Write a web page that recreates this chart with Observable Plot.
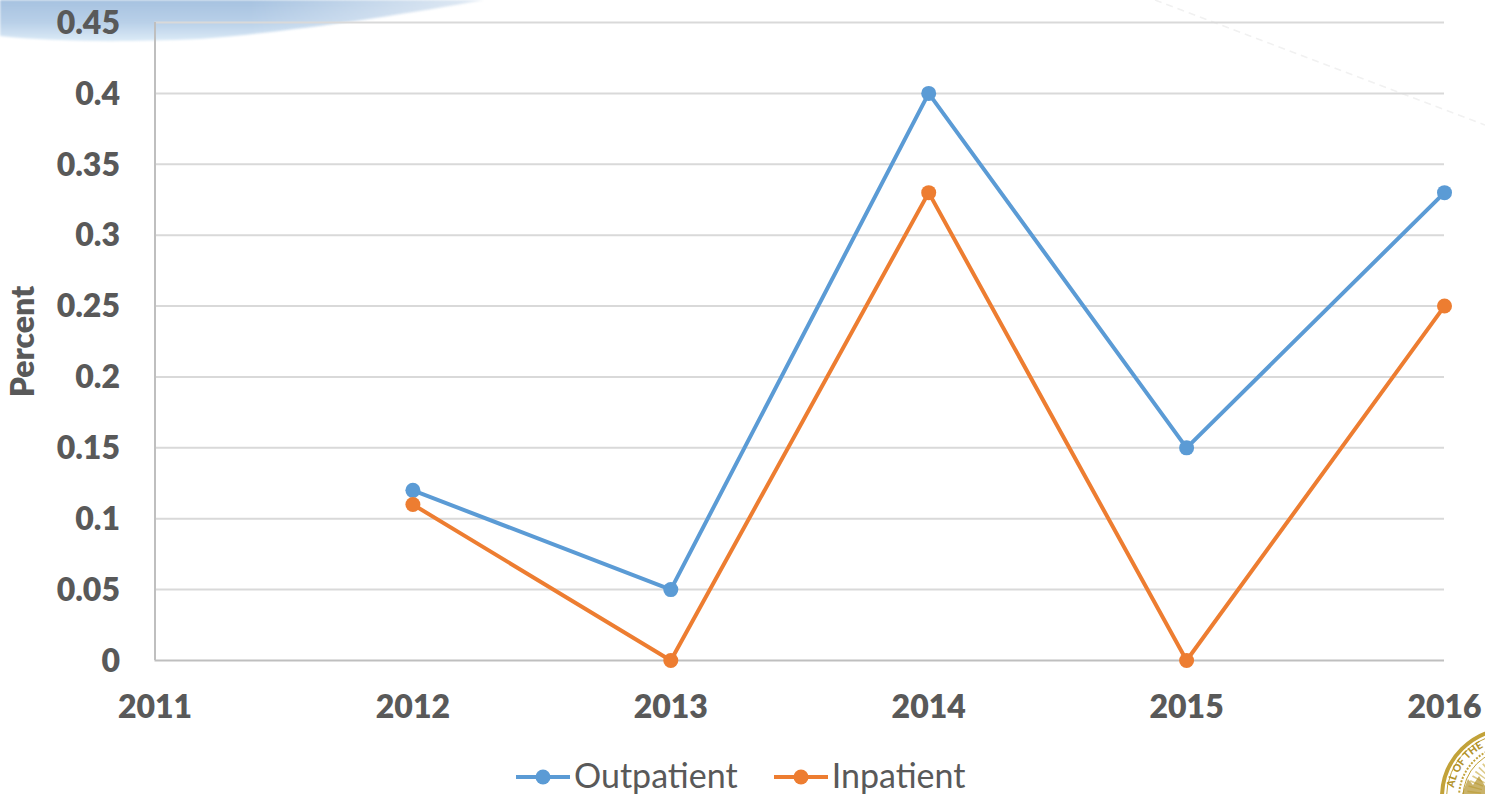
<!DOCTYPE html>
<html>
<head>
<meta charset="utf-8">
<script src="https://cdn.jsdelivr.net/npm/d3@7"></script>
<script src="https://cdn.jsdelivr.net/npm/@observablehq/plot@0.6"></script>
<style>
  html, body { margin: 0; padding: 0; background: #fff; overflow: hidden; }
  #page { position: relative; width: 1485px; height: 794px; font-family: Lato, sans-serif; color: #595959; }
  #backdrop { position: absolute; left: 0; top: 0; }
  #chart { position: absolute; left: 0; top: 0; }
  #chart svg { background: transparent; display: block; }
  #legend { position: absolute; left: 516px; top: 755px; height: 39px; display: flex; align-items: center; font-size: 34px; line-height: 39px; }
  #legend .entry { display: flex; align-items: center; }
  #legend .entry + .entry { margin-left: 36px; }
  #legend svg { display: block; margin-right: 4px; position: relative; top: 2px; }
</style>
</head>
<body>
<div id="page">
  <!-- Letterhead artwork sitting behind the chart -->
  <svg id="backdrop" width="1485" height="794" viewBox="0 0 1485 794">
    <defs>
      <linearGradient id="sky" x1="0" y1="0" x2="0" y2="1">
        <stop offset="0" stop-color="#a6c2e0"/>
        <stop offset="0.55" stop-color="#b9d0e8"/>
        <stop offset="1" stop-color="#dcebf7"/>
      </linearGradient>
      <linearGradient id="skyFade" x1="0" y1="0" x2="1" y2="0">
        <stop offset="0" stop-color="#fff" stop-opacity="1"/>
        <stop offset="0.5" stop-color="#fff" stop-opacity="1"/>
        <stop offset="1" stop-color="#fff" stop-opacity="0.3"/>
      </linearGradient>
      <mask id="skyMask"><rect width="500" height="50" fill="url(#skyFade)"/></mask>
      <filter id="soft" x="-5%" y="-20%" width="110%" height="140%"><feGaussianBlur stdDeviation="1.2"/></filter>
      <path id="sealArc" d="M 1454 788 A 56 56 0 0 1 1510 741"/>
    </defs>
    <g mask="url(#skyMask)">
      <path d="M0,36 C50,41 110,43 200,39 C290,32 400,15 484,0 L0,0 Z" fill="url(#sky)" filter="url(#soft)"/>
    </g>
    <path d="M1155,0 L1485,125" fill="none" stroke="#f1f1f1" stroke-width="1.5" stroke-dasharray="7 5"/>
    <g fill="none" stroke="#c2a239">
      <circle cx="1510" cy="797" r="68" stroke-width="4"/>
      <circle cx="1510" cy="797" r="63.5" stroke-width="1"/>
      <circle cx="1510" cy="797" r="51" stroke-width="2" stroke-dasharray="2 1.5"/>
      <circle cx="1510" cy="797" r="47" stroke-width="1"/>
      <circle cx="1510" cy="797" r="36" stroke-width="14" stroke-dasharray="1.5 3" stroke="#ddcb8a"/>
    </g>
    <path d="M1462,794 L1468,779 L1473,785 L1479,776 L1485,786 L1485,794 Z" fill="#b3932b" opacity="0.7"/>
    <text font-family="Lato, sans-serif" font-size="10.5" font-weight="900" fill="#b3932b">
      <textPath href="#sealArc">AL OF THE</textPath>
    </text>
  </svg>

  <div id="chart"></div>

  <div id="legend"></div>
</div>

<script>
// Share of patients per year, by care setting
const years = [2012, 2013, 2014, 2015, 2016];
const outpatient = [0.12, 0.05, 0.4, 0.15, 0.33];
const inpatient = [0.11, 0, 0.33, 0, 0.25];
const xTicks = [2011, 2012, 2013, 2014, 2015, 2016];
const yTicks = [0, 0.05, 0.1, 0.15, 0.2, 0.25, 0.3, 0.35, 0.4, 0.45];
const seriesNames = ["Outpatient", "Inpatient"];
const seriesColors = ["#5b9bd5", "#ed7d31"];

const ink = "#595959";
const rows = (values, name) => years.map((year, i) => ({year, value: values[i], name}));
const outRows = rows(outpatient, seriesNames[0]);
const inRows = rows(inpatient, seriesNames[1]);

const plot = Plot.plot({
  width: 1485,
  height: 750,
  marginLeft: 154.5,
  marginRight: 41,
  marginTop: 22,
  marginBottom: 90,
  style: {background: "transparent", fontFamily: "Lato, sans-serif", color: ink, overflow: "visible"},
  x: {domain: [2011, 2016]},
  y: {domain: [0, 0.45]},
  marks: [
    Plot.ruleY(yTicks.filter(d => d > 0), {y: d => d, stroke: "#d9d9d9", strokeWidth: 2}),
    Plot.ruleY([0], {stroke: "#bfbfbf", strokeWidth: 2}),
    Plot.ruleX([2011], {stroke: "#bfbfbf", strokeWidth: 2}),
    Plot.axisY({
      ticks: yTicks, tickSize: 0, tickPadding: 35, dy: 1, tickFormat: d => String(d),
      fontSize: 32, fontWeight: 800, fill: ink, label: null
    }),
    Plot.axisX({
      ticks: xTicks, tickSize: 0, tickPadding: 35, tickFormat: d => String(d),
      fontSize: 32, fontWeight: 800, fill: ink, label: null
    }),
    Plot.text(["Percent"], {
      frameAnchor: "left", textAnchor: "middle", dx: -131, rotate: -90, text: d => d,
      fontSize: 32, fontWeight: 800, fill: ink
    }),
    Plot.line(outRows, {x: "year", y: "value", stroke: seriesColors[0], strokeWidth: 4}),
    Plot.line(inRows, {x: "year", y: "value", stroke: seriesColors[1], strokeWidth: 4}),
    Plot.dot(outRows, {x: "year", y: "value", fill: seriesColors[0], r: 7.5}),
    Plot.dot(inRows, {x: "year", y: "value", fill: seriesColors[1], r: 7.5})
  ]
});
document.getElementById("chart").append(plot);

// Legend row: a line-and-dot key followed by each series name
const legend = d3.select("#legend");
seriesNames.forEach((name, i) => {
  const entry = legend.append("div").attr("class", "entry");
  const key = entry.append("svg").attr("width", 54).attr("height", 20);
  key.append("line").attr("x1", 0).attr("x2", 54).attr("y1", 10).attr("y2", 10)
    .attr("stroke", seriesColors[i]).attr("stroke-width", 4);
  key.append("circle").attr("cx", 27).attr("cy", 10).attr("r", 7.5).attr("fill", seriesColors[i]);
  entry.append("span").text(name);
});
</script>
</body>
</html>
